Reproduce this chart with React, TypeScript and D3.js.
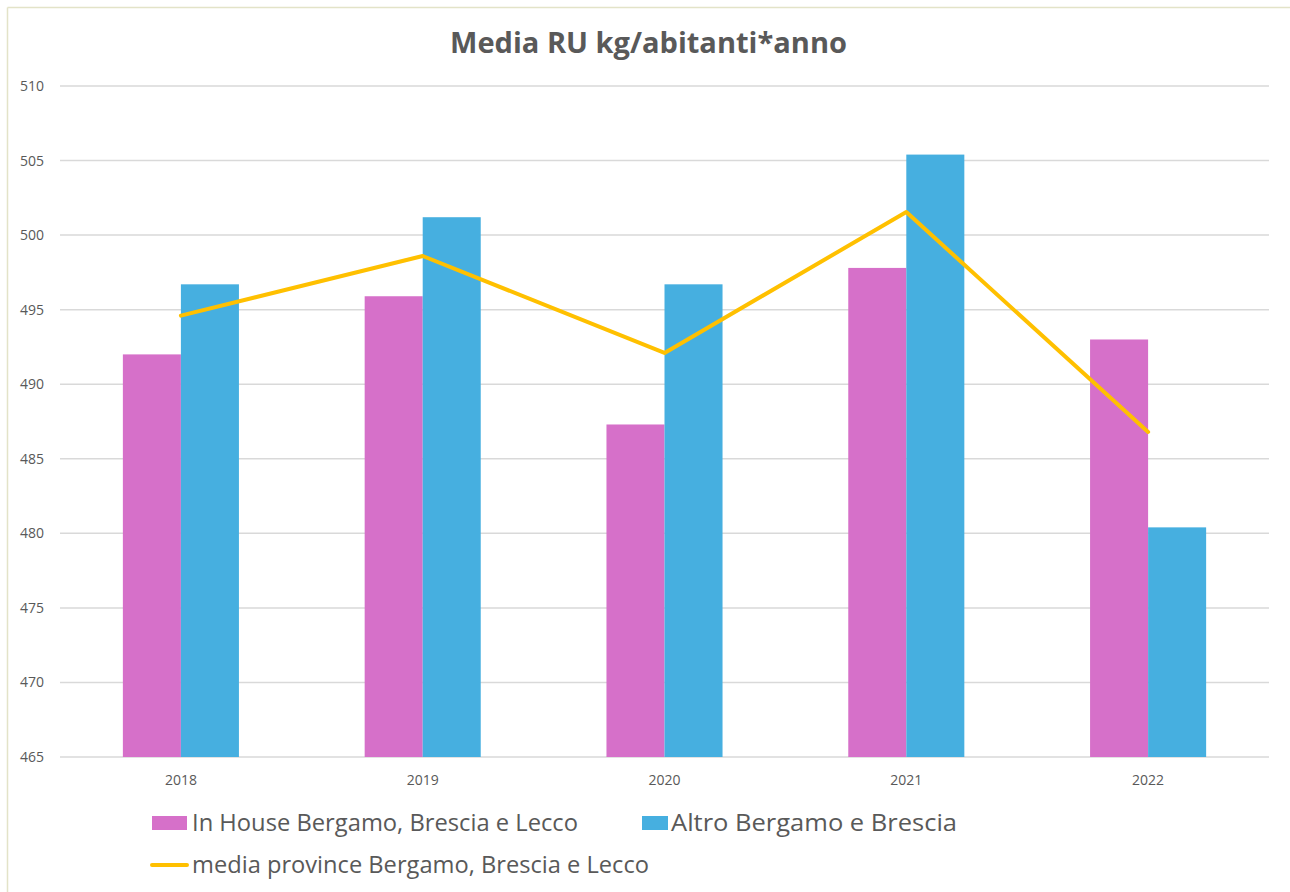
import React from "react";
import * as d3 from "d3";

const categories = ["2018", "2019", "2020", "2021", "2022"];
const inHouse = [492.0, 495.9, 487.3, 497.8, 493.0];
const altro = [496.7, 501.2, 496.7, 505.4, 480.4];
const media = [494.6, 498.6, 492.1, 501.55, 486.8];
const yTicks = [465, 470, 475, 480, 485, 490, 495, 500, 505, 510];
const seriesNames = [
  "In House Bergamo, Brescia e Lecco",
  "Altro Bergamo e Brescia",
  "media province Bergamo, Brescia e Lecco",
];

const W = 1290;
const H = 892;
const PINK = "#D670C9";
const BLUE = "#46AFE0";
const GOLD = "#FFC000";
const TEXT = "#595959";
const FONT = "'Open Sans', 'Noto Sans', sans-serif";

export default function App() {
  const left = 60;
  const right = 1269;
  const top = 86;
  const bottom = 757;

  const x = d3.scaleBand<string>().domain(categories).range([left, right]).paddingInner(0).paddingOuter(0);
  const y = d3.scaleLinear().domain([465, 510]).range([bottom, top]);
  const barW = x.bandwidth() * 0.24;
  const cx = (c: string) => (x(c) as number) + x.bandwidth() / 2;

  const line = d3
    .line<number>()
    .x((_, i) => cx(categories[i]))
    .y((d) => y(d));

  return (
    <svg
      width={W}
      height={H}
      style={{ position: "absolute", left: 0, top: 0, background: "#fff" }}
      fontFamily={FONT}
    >
      <rect x={0} y={0} width={W} height={H} fill="#fff" />
      <line x1={7.5} y1={7.5} x2={W} y2={7.5} stroke="#E3E3C8" strokeWidth={1.5} />
      <line x1={7.5} y1={7.5} x2={7.5} y2={H} stroke="#E3E3C8" strokeWidth={1.5} />

      <text x={450} y={53} textLength={397} lengthAdjust="spacingAndGlyphs" fontSize={28} fontWeight="bold" fill={TEXT}>
        Media RU kg/abitanti*anno
      </text>

      {yTicks.map((t) => (
        <g key={t}>
          <line x1={left} x2={right} y1={y(t)} y2={y(t)} stroke="#D9D9D9" strokeWidth={1.5} />
          <text x={44} y={y(t) + 5} textAnchor="end" fontSize={14} fill={TEXT}>
            {t}
          </text>
        </g>
      ))}

      {categories.map((c, i) => (
        <g key={c}>
          <rect x={cx(c) - barW} y={y(inHouse[i])} width={barW} height={bottom - y(inHouse[i])} fill={PINK} />
          <rect x={cx(c)} y={y(altro[i])} width={barW} height={bottom - y(altro[i])} fill={BLUE} />
          <text x={cx(c)} y={785} textAnchor="middle" fontSize={14} fill={TEXT}>
            {c}
          </text>
        </g>
      ))}

      <path d={line(media) || ""} fill="none" stroke={GOLD} strokeWidth={4} strokeLinejoin="round" strokeLinecap="round" />

      <rect x={152} y={816} width={35} height={14} fill={PINK} />
      <text x={192} y={831} fontSize={24} textLength={386} lengthAdjust="spacingAndGlyphs" fill={TEXT}>
        {seriesNames[0]}
      </text>
      <rect x={642} y={816} width={26} height={14} fill={BLUE} />
      <text x={671} y={831} fontSize={24} textLength={286} lengthAdjust="spacingAndGlyphs" fill={TEXT}>
        {seriesNames[1]}
      </text>
      <line x1={152} x2={187} y1={865} y2={865} stroke={GOLD} strokeWidth={4} strokeLinecap="round" />
      <text x={192} y={873} fontSize={24} textLength={457} lengthAdjust="spacingAndGlyphs" fill={TEXT}>
        {seriesNames[2]}
      </text>
    </svg>
  );
}
